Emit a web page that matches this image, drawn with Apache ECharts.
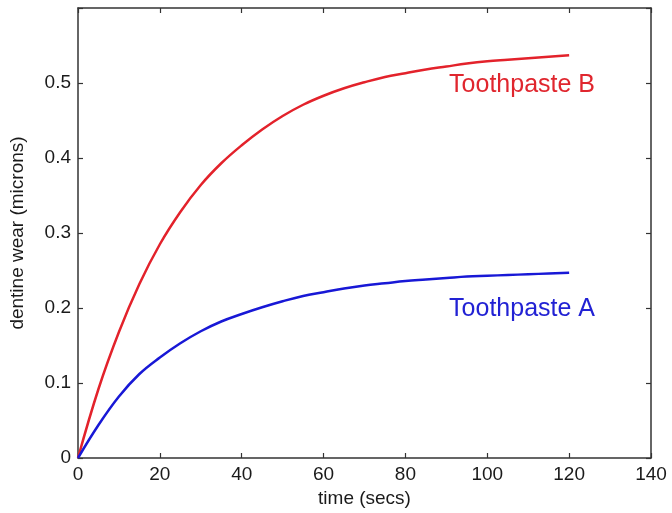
<!DOCTYPE html>
<html>
<head>
<meta charset="utf-8">
<script src="https://cdn.jsdelivr.net/npm/echarts@6/dist/echarts.min.js"></script>
<style>html,body{margin:0;padding:0;background:#fff;}#c{width:672px;height:513px;}</style>
</head>
<body>
<div id="c"></div>
<script>
var times = [0,5,10,15,20,25,30,35,40,45,50,55,60,65,70,75,80,85,90,95,100,105,110,115,120];
var toothpasteB = [0,0.092,0.168,0.232,0.285,0.328,0.364,0.393,0.417,0.438,0.456,0.471,0.483,0.493,0.501,0.508,0.513,0.518,0.522,0.526,0.529,0.531,0.533,0.535,0.537];
var toothpasteA = [0,0.044,0.082,0.112,0.134,0.153,0.169,0.182,0.192,0.201,0.209,0.216,0.221,0.226,0.230,0.233,0.236,0.238,0.240,0.242,0.243,0.244,0.245,0.246,0.247];
var seriesNames = ['Toothpaste A','Toothpaste B'];
var xTicks = [0,20,40,60,80,100,120,140];
var yTicks = [0,0.1,0.2,0.3,0.4,0.5];

function pairs(xs, ys){ return xs.map(function(x,i){return [x, ys[i]];}); }

var axisLine = {show:true, onZero:false, lineStyle:{color:'#333', width:1.5}};
var tick = {show:true, inside:true, length:5, lineStyle:{color:'#333', width:1.2}};
var font = 'Liberation Sans, Arial, sans-serif';

var chart = echarts.init(document.getElementById('c'));
chart.setOption({
  animation:false,
  backgroundColor:'#fff',
  grid:{left:78, right:21, top:8, bottom:55, containLabel:false},
  xAxis:[{
    type:'value', min:0, max:140, interval:20, position:'bottom',
    axisLine:axisLine, axisTick:tick, splitLine:{show:false},
    axisLabel:{color:'#1a1a1a', fontSize:19, fontFamily:font, margin:7},
    name:'time (secs)', nameLocation:'middle', nameGap:29,
    nameTextStyle:{color:'#1a1a1a', fontSize:19, fontFamily:font}
  },{
    type:'value', min:0, max:140, interval:20, position:'top',
    axisLine:axisLine, axisTick:tick, axisLabel:{show:false}, splitLine:{show:false}
  }],
  yAxis:[{
    type:'value', min:0, max:0.6, interval:0.1, position:'left',
    axisLine:axisLine, axisTick:tick, splitLine:{show:false},
    axisLabel:{color:'#1a1a1a', fontSize:19, fontFamily:font, margin:7,
      formatter:function(v){ if (Math.abs(v-0.6)<1e-9) return ''; return v===0?'0':v.toFixed(1); }},
    name:'dentine wear (microns)', nameLocation:'middle', nameGap:51,
    nameTextStyle:{color:'#1a1a1a', fontSize:19, fontFamily:font}
  },{
    type:'value', min:0, max:0.6, interval:0.1, position:'right',
    axisLine:axisLine, axisTick:tick, axisLabel:{show:false}, splitLine:{show:false}
  }],
  series:[{
    name:seriesNames[1], type:'line', smooth:0.4, showSymbol:false,
    data:pairs(times, toothpasteB),
    lineStyle:{color:'#e3222b', width:2.5}, itemStyle:{color:'#e3222b'},
    markPoint:{symbol:'circle', symbolSize:0, silent:true, data:[{coord:[108.5,0.497],
      label:{show:true, position:'inside', formatter:seriesNames[1], color:'#e0262e', fontSize:25, fontFamily:font}}]}
  },{
    name:seriesNames[0], type:'line', smooth:0.4, showSymbol:false,
    data:pairs(times, toothpasteA),
    lineStyle:{color:'#1818d6', width:2.5}, itemStyle:{color:'#1818d6'},
    markPoint:{symbol:'circle', symbolSize:0, silent:true, data:[{coord:[108.5,0.199],
      label:{show:true, position:'inside', formatter:seriesNames[0], color:'#2222d4', fontSize:25, fontFamily:font}}]}
  }]
});
</script>
</body>
</html>
